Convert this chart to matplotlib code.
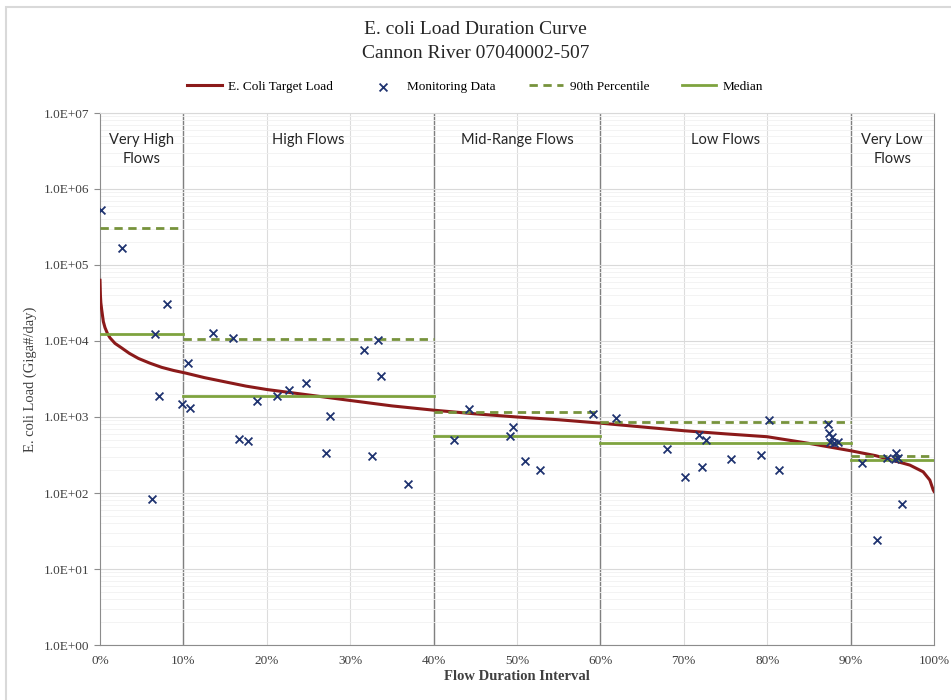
from matplotlib import pyplot as plt
from matplotlib.patches import Rectangle
import numpy as np

# target load curve (flow duration %, load)
curve_pct = [0.0, 0.05, 0.1, 0.2, 0.4, 0.6, 0.9, 1.2, 1.8, 2.6, 3.5, 4.6, 6.0, 7.4, 8.8,
             10.2, 12.5, 15, 17.5, 20, 25, 30, 35, 40, 45, 50, 55, 60, 65, 70, 75, 80,
             85, 90, 93, 95.1, 97.1, 98.7, 99.5, 99.9, 100]
curve_load = [6.3e4, 4.0e4, 3.2e4, 2.6e4, 1.8e4, 1.5e4, 1.25e4, 1.1e4, 9.3e3, 8.1e3,
              6.9e3, 5.9e3, 5.1e3, 4.5e3, 4.1e3, 3.8e3, 3.3e3, 2.9e3, 2.55e3, 2.3e3,
              1.95e3, 1.65e3, 1.4e3, 1.23e3, 1.1e3, 1.0e3, 920, 830, 740, 660, 600,
              550, 450, 360, 310, 268, 233, 190, 148, 110, 105]

# monitoring samples
obs_pct = [0.1, 2.6, 8.0, 6.6, 7.1, 6.2, 9.8, 10.8, 10.6, 13.5, 15.9, 16.7, 17.7, 18.8,
           21.2, 22.7, 24.7, 27.1, 27.6, 31.7, 33.3, 33.7, 32.6, 36.9, 44.2, 42.4, 49.5,
           49.2, 51.0, 52.8, 59.1, 61.9, 68.0, 70.1, 71.8, 72.7, 72.2, 75.6, 79.2, 80.2,
           81.4, 87.3, 87.4, 87.8, 87.5, 88.5, 88.0, 91.4, 94.4, 95.4, 95.7, 95.3, 96.2,
           93.2]
obs_load = [5.3e5, 1.67e5, 3.1e4, 1.23e4, 1.9e3, 83, 1.48e3, 1.3e3, 5.2e3, 1.28e4,
            1.1e4, 510, 480, 1.6e3, 1.9e3, 2.3e3, 2.8e3, 340, 1.02e3, 7.6e3, 1.03e4,
            3.5e3, 310, 130, 1.27e3, 500, 740, 565, 263, 200, 1.1e3, 980, 380, 163, 575,
            500, 218, 280, 316, 910, 200, 810, 620, 550, 470, 470, 455, 245, 290, 340,
            290, 280, 72, 24]

# flow zones
zone_edges = [0, 10, 40, 60, 90, 100]
zone_names = ["Very High\nFlows", "High Flows", "Mid-Range Flows", "Low Flows", "Very Low\nFlows"]
p90 = [3.1e5, 1.07e4, 1.17e3, 850, 305]
median = [1.23e4, 1.9e3, 565, 460, 275]

serif = "Liberation Serif"
sans = "Lato"

fig = plt.figure(figsize=(9.51, 7.0), dpi=100, facecolor="white")
fig.patches.append(Rectangle((6 / 951, -0.1), 1.2, 1.1 - 7 / 700, transform=fig.transFigure,
                             fill=False, edgecolor="#d9d9d9", linewidth=1.5))
ax = fig.add_axes([100 / 951, 1 - 645 / 700, 834 / 951, 532 / 700])

ax.set_yscale("log")
ax.set_xlim(0, 100)
ax.set_ylim(1, 1e7)

# grid
ax.grid(which="major", axis="y", color="#d9d9d9", linewidth=0.8)
ax.grid(which="minor", axis="y", color="#f1f1f1", linewidth=0.6)
for x in range(10, 100, 10):
    ax.axvline(x, color="#dcdcdc", linewidth=0.8, zorder=0)
for x in zone_edges[1:-1]:
    ax.axvline(x, color="#808080", linewidth=1.0, zorder=1)

for sp in ["left", "bottom", "right"]:
    ax.spines[sp].set_color("#8c8c8c")
ax.spines["top"].set_color("#d9d9d9")

ax.plot(curve_pct, curve_load, color="#8b1a1a", linewidth=2.2, zorder=3,
        label="E. Coli Target Load")
ax.scatter(obs_pct, obs_load, marker="x", color="#1f3370", s=32, linewidths=1.3, zorder=5,
           label="Monitoring Data")
for i in range(len(p90)):
    x0, x1 = zone_edges[i], zone_edges[i + 1]
    ax.plot([x0, x1], [p90[i], p90[i]], color="#77933c", linewidth=2, linestyle=(0, (3, 2)),
            zorder=4, label="90th Percentile" if i == 0 else None)
    ax.plot([x0, x1], [median[i], median[i]], color="#7ea33f", linewidth=2, zorder=4,
            label="Median" if i == 0 else None)
    ax.text((x0 + x1) / 2, 5.5e6, zone_names[i], ha="center", va="top", fontsize=10.5,
            family=sans, color="#262626", linespacing=1.5)

ax.set_xticks(range(0, 101, 10))
ax.set_xticklabels([f"{v}%" for v in range(0, 101, 10)], family=serif, fontsize=9.5,
                   color="#404040")
ax.set_yticks([10.0 ** k for k in range(0, 8)])
ax.set_yticklabels([f"1.0E+{k:02d}" for k in range(0, 8)], family=serif, fontsize=9.5,
                   color="#404040")
ax.tick_params(axis="both", which="major", length=4, color="#8c8c8c")
ax.tick_params(axis="y", which="minor", length=0)
ax.tick_params(axis="x", length=0, pad=7)

ax.set_xlabel("Flow Duration Interval", family=serif, fontsize=10.5, fontweight="bold",
              color="#404040", labelpad=2)
ax.set_ylabel("E. coli Load (Giga#/day)", family=serif, fontsize=10.5, color="#404040",
              labelpad=5)

fig.text(0.5, 1 - 29 / 700, "E. coli Load Duration Curve", ha="center", va="center",
         family=serif, fontsize=14, color="#262626")
fig.text(0.5, 1 - 53 / 700, "Cannon River 07040002-507", ha="center", va="center",
         family=serif, fontsize=14, color="#262626")

fig.legend(loc="center", bbox_to_anchor=(0.5, 1 - 87 / 700), ncol=4, frameon=False,
           prop={"family": serif, "size": 9.5}, handlelength=2.6, columnspacing=2.5,
           handletextpad=0.5)

plt.savefig("out.png", dpi=100, facecolor="white")
